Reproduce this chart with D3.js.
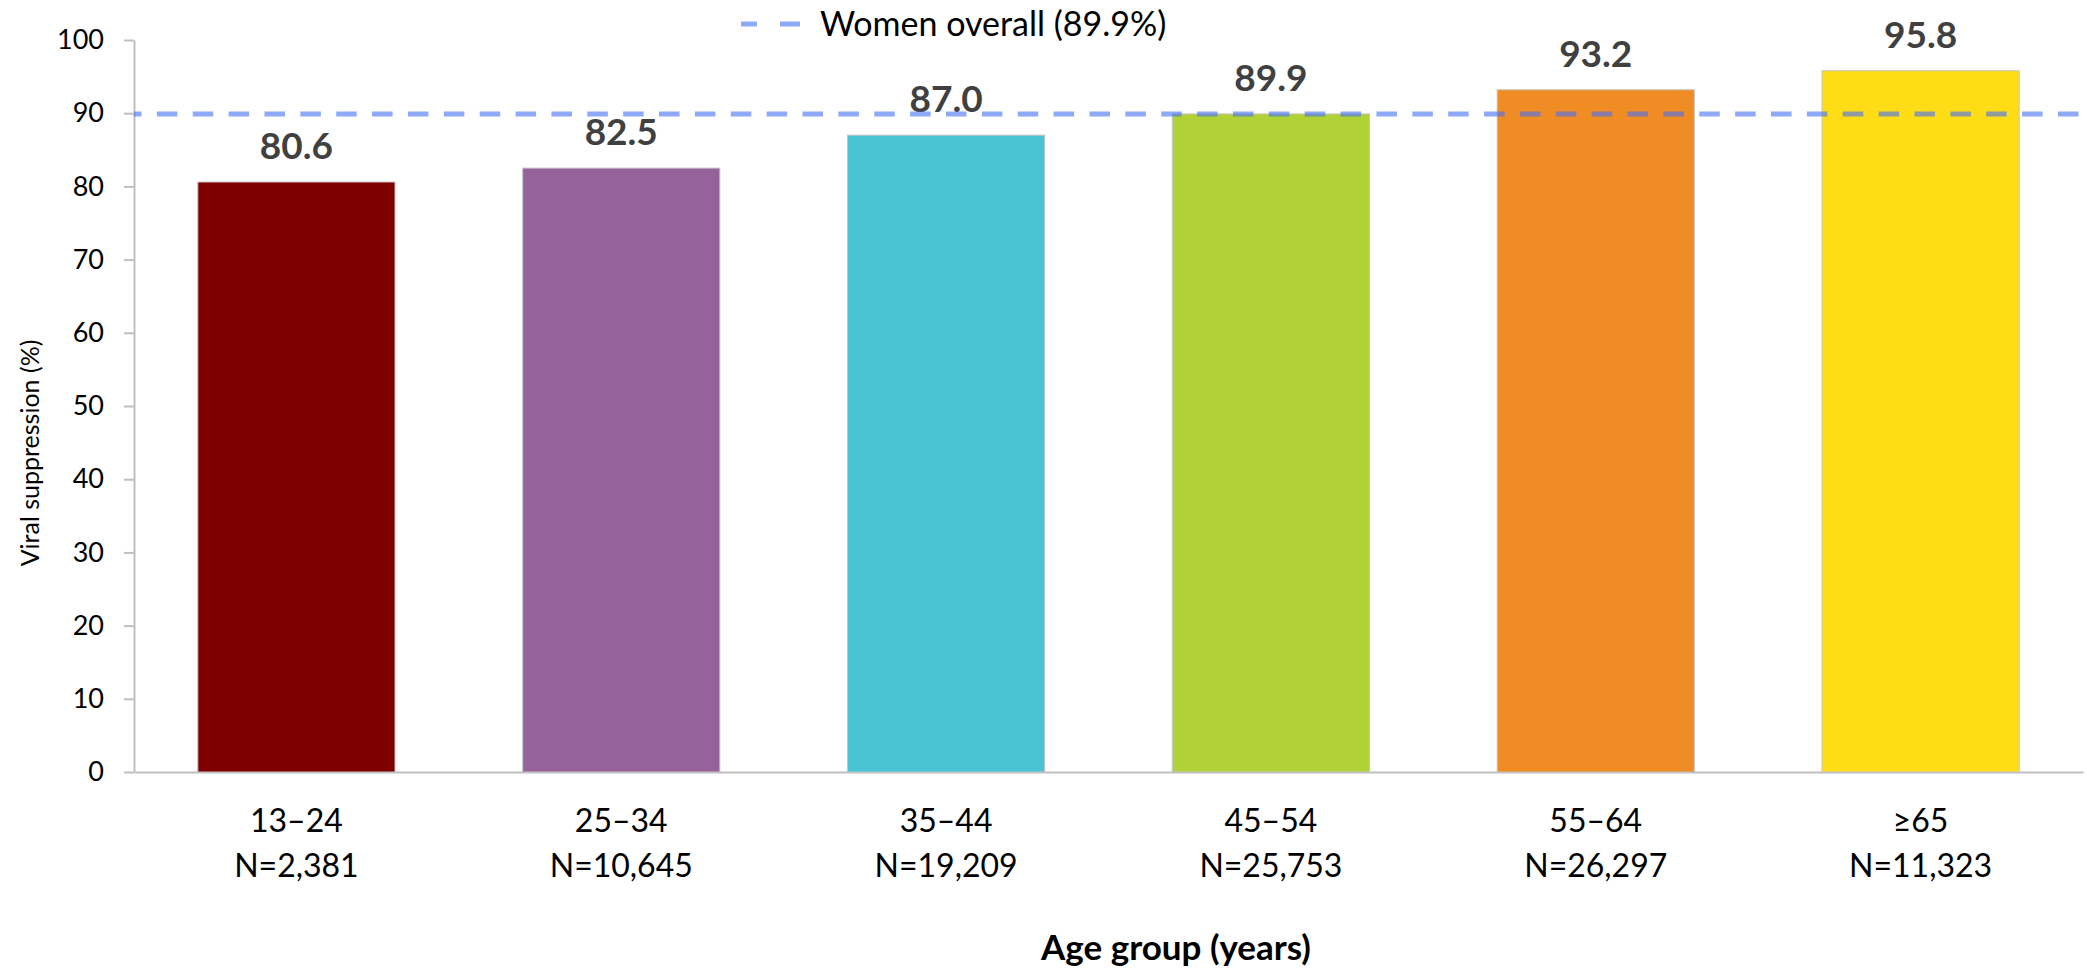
<!DOCTYPE html>
<html>
<head>
<meta charset="utf-8">
<script src="https://cdn.jsdelivr.net/npm/d3@7"></script>
<style>
  html, body { margin: 0; padding: 0; background: #fff; }
  svg { display: block; }
  text { font-family: Lato, "Open Sans", sans-serif; }
</style>
</head>
<body>
<svg id="chart" width="2087" height="973"></svg>
<script>
const categories = ["13–24", "25–34", "35–44", "45–54", "55–64", "≥65"];
const counts = ["N=2,381", "N=10,645", "N=19,209", "N=25,753", "N=26,297", "N=11,323"];
const values = [80.6, 82.5, 87.0, 89.9, 93.2, 95.8];
const barColors = ["#7F0000", "#956399", "#4AC3D3", "#B0D236", "#F08C24", "#FEDD17"];
const overallValue = 89.9;
const overallLabel = "Women overall (89.9%)";
const yTicks = [0, 10, 20, 30, 40, 50, 60, 70, 80, 90, 100];
const yTitle = "Viral suppression (%)";
const xTitle = "Age group (years)";

const svg = d3.select("#chart");
const plotLeft = 134, plotRight = 2083, plotTop = 40, plotBottom = 772;

const x = d3.scaleBand().domain(categories).range([plotLeft, plotRight])
  .paddingInner(0.393).paddingOuter(0.1965);
const y = d3.scaleLinear().domain([0, 100]).range([plotBottom, plotTop]);

const axisColor = "#BFBFBF";

// Y axis
const yAxis = svg.append("g").attr("transform", `translate(${plotLeft},0)`)
  .call(d3.axisLeft(y).tickValues(yTicks).tickSize(10).tickSizeOuter(0).tickPadding(20));
yAxis.select(".domain").attr("stroke", axisColor).attr("stroke-width", 2);
yAxis.selectAll(".tick line").attr("stroke", axisColor).attr("stroke-width", 2);
yAxis.selectAll(".tick text").attr("font-size", 27).attr("fill", "#000")
  .attr("font-family", "Lato, sans-serif");

// X axis
const xAxis = svg.append("g").attr("transform", `translate(0,${plotBottom})`)
  .call(d3.axisBottom(x).tickSize(0).tickSizeOuter(0).tickFormat(""));
xAxis.select(".domain").attr("stroke", axisColor).attr("stroke-width", 2);

// X labels (two lines)
const xl = svg.append("g");
categories.forEach((c, i) => {
  const cx = x(c) + x.bandwidth() / 2;
  const t = xl.append("text").attr("text-anchor", "middle").attr("font-size", 32).attr("fill", "#000");
  t.append("tspan").attr("x", cx).attr("y", 832).text(c);
  t.append("tspan").attr("x", cx).attr("y", 877).text(counts[i]);
});

// Bars
svg.append("g").selectAll("rect").data(values).join("rect")
  .attr("x", (d, i) => x(categories[i]))
  .attr("y", d => y(d))
  .attr("width", x.bandwidth())
  .attr("height", d => y(0) - y(d))
  .attr("fill", (d, i) => barColors[i])
  .attr("stroke", "#C4C4C4").attr("stroke-width", 1);

// Value labels
svg.append("g").selectAll("text").data(values).join("text")
  .attr("x", (d, i) => x(categories[i]) + x.bandwidth() / 2)
  .attr("y", d => y(d) - 23)
  .attr("text-anchor", "middle")
  .attr("font-size", 37).attr("font-weight", 700).attr("fill", "#404040")
  .text(d => d.toFixed(1));

// Reference line
const refColor = "rgb(68,112,245)";
svg.append("line")
  .attr("x1", plotLeft).attr("x2", 2079)
  .attr("y1", y(overallValue)).attr("y2", y(overallValue))
  .attr("stroke", refColor).attr("stroke-opacity", 0.6).attr("stroke-width", 5)
  .attr("stroke-dasharray", "20.5,15.37").attr("stroke-dashoffset", 13);

// Legend
const lg = svg.append("g");
[[741, 757], [780, 800]].forEach(([a, b]) => {
  lg.append("line").attr("x1", a).attr("x2", b).attr("y1", 24).attr("y2", 24)
    .attr("stroke", refColor).attr("stroke-opacity", 0.6).attr("stroke-width", 5);
});
lg.append("text").attr("x", 820).attr("y", 36).attr("font-size", 34).attr("fill", "#000").text(overallLabel);

// Axis titles
svg.append("text").attr("transform", "translate(39,453) rotate(-90)")
  .attr("text-anchor", "middle").attr("font-size", 25).attr("fill", "#000").text(yTitle);
svg.append("text").attr("x", 1176).attr("y", 960).attr("text-anchor", "middle")
  .attr("font-size", 35).attr("font-weight", 700).attr("fill", "#000").text(xTitle);
</script>
</body>
</html>
